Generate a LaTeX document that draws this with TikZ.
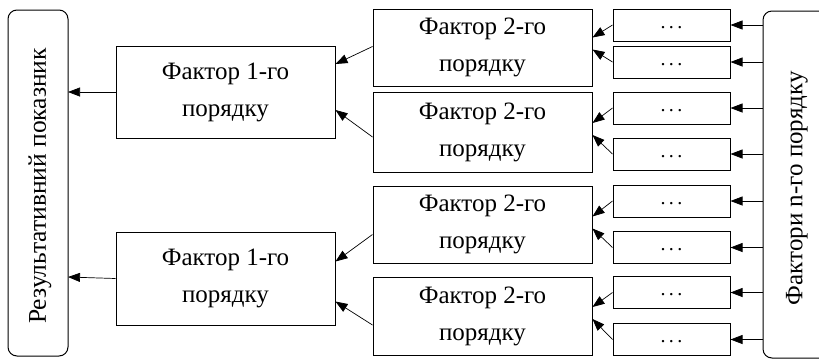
\documentclass[tikz,border=0pt]{standalone}
\usepackage{fontspec}
\setmainfont{Liberation Serif}
\usetikzlibrary{arrows.meta,calc}
\begin{document}
\begin{tikzpicture}[x=1pt,y=-1pt,
  box/.style={draw,line width=1pt,inner sep=0pt,align=center,
    font=\fontsize{25}{37}\selectfont},
  dotbox/.style={draw,line width=1pt,inner sep=0pt,minimum width=117pt,
    minimum height=32pt,font=\fontsize{20}{22}\selectfont},
  arr/.style={line width=0.7pt,-{Triangle[length=12pt,width=9pt]}}
]
\useasboundingbox (0,0) rectangle (819,360);

% outer columns
\draw[line width=1pt,rounded corners=9pt] (8,10) rectangle (68,356);
\node[rotate=90,font=\fontsize{25.5}{27}\selectfont] (res) at (40,186) {Результативний показник};
\coordinate (resE1) at (68,92);
\coordinate (resE2) at (68,277);

\draw[line width=1pt,rounded corners=9pt] (763,11) rectangle (840,358);
\node[rotate=90,font=\fontsize{25}{27}\selectfont] (nf) at (797,188) {Фактори n-го порядку};

% first-order factors
\node[box,minimum width=219pt,minimum height=92pt] (a1) at (225.5,92) {Фактор 1-го\\порядку};
\node[box,minimum width=219pt,minimum height=93pt] (a2) at (225.5,278.5) {Фактор 1-го\\порядку};

% second-order factors
\node[box,minimum width=219pt,minimum height=77pt] (b1) at (482.5,47.5) {Фактор 2-го\\порядку};
\node[box,minimum width=219pt,minimum height=80pt] (b2) at (482.5,132) {Фактор 2-го\\порядку};
\node[box,minimum width=219pt,minimum height=77pt] (b3) at (482.5,224.5) {Фактор 2-го\\порядку};
\node[box,minimum width=219pt,minimum height=78pt] (b4) at (482.5,316) {Фактор 2-го\\порядку};

% n-th order factors
\foreach \i/\y in {1/25,2/62,3/108,4/154,5/201,6/247.5,7/292.5,8/339.5}{
  \node[dotbox] (c\i) at (671.5,\y) {\raisebox{-7pt}{.\,.\,.}};
  \coordinate (n\i) at (763,\y);
  \draw[arr] (n\i) -- (c\i.east);
}

% links between levels
\draw[arr] (a1.west) -- (resE1);
\draw[arr] (a2.west) -- (resE2);

\draw[arr] ($(b1.west)+(0,-1)$) -- ($(a1.east)+(0,-28)$);
\draw[arr] ($(b2.west)+(0,5)$) -- ($(a1.east)+(0,18)$);
\draw[arr] ($(b3.west)+(0,10)$) -- ($(a2.east)+(0,-17)$);
\draw[arr] ($(b4.west)+(0,9)$) -- ($(a2.east)+(0,23)$);

\draw[arr] (c1.west) -- ($(b1.east)+(0,-10)$);
\draw[arr] (c2.west) -- ($(b1.east)+(0,2)$);
\draw[arr] (c3.west) -- ($(b2.east)+(0,-9)$);
\draw[arr] (c4.west) -- ($(b2.east)+(0,3)$);
\draw[arr] (c5.west) -- ($(b3.east)+(0,-8)$);
\draw[arr] (c6.west) -- ($(b3.east)+(0,4)$);
\draw[arr] (c7.west) -- ($(b4.east)+(0,-9)$);
\draw[arr] (c8.west) -- ($(b4.east)+(0,3)$);
\end{tikzpicture}
\end{document}
